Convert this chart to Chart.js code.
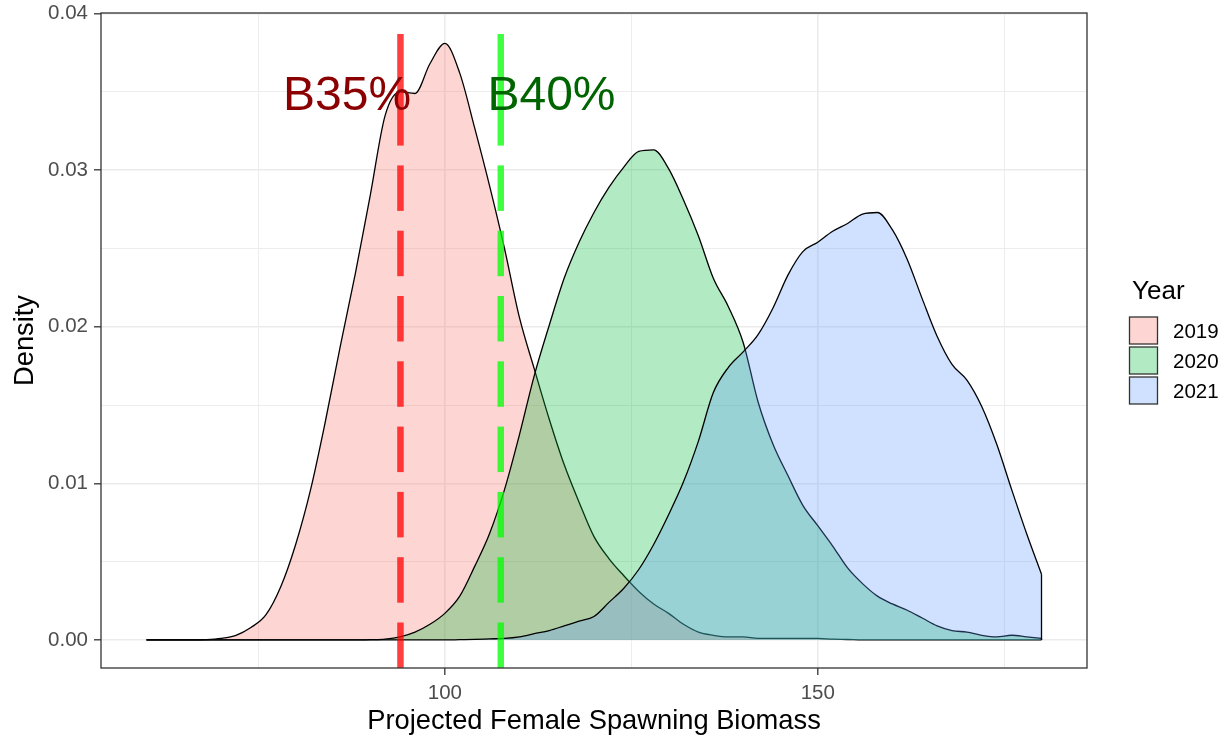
<!DOCTYPE html>
<html>
<head>
<meta charset="utf-8">
<title>Projected Female Spawning Biomass</title>
<script src="https://cdn.jsdelivr.net/npm/chart.js@4.4.1/dist/chart.umd.min.js"></script>
<style>
  html, body { margin: 0; padding: 0; background: #ffffff; }
  canvas { display: block; }
</style>
</head>
<body>
<canvas id="densityChart" width="1232" height="742"></canvas>
<script>
// density curves on a grid of biomass values
const years = ['2019', '2020', '2021'];
const biomass = [60, 62, 64, 66, 68, 70, 72, 74, 76, 78, 80, 82, 84, 86, 88, 90, 92, 94, 96, 98,
    100, 102, 104, 106, 108, 110, 112, 114, 116, 118, 120, 122, 124, 126, 128, 130, 132, 134, 136, 138,
    140, 142, 144, 146, 148, 150, 152, 154, 156, 158, 160, 162, 164, 166, 168, 170, 172, 174, 176, 178, 180];
const density2019 = [0, 0, 0, 0, 0.00002, 0.0001, 0.0003, 0.0008, 0.0016, 0.0034,
    0.0061, 0.0096, 0.0140, 0.0188, 0.0234, 0.0284, 0.0335, 0.0350, 0.0349, 0.0368,
    0.0381, 0.0362, 0.0327, 0.0290, 0.0250, 0.0206, 0.0173, 0.0141, 0.0112, 0.0088,
    0.0066, 0.0052, 0.0041, 0.0031, 0.0023, 0.0017, 0.0010, 0.0005, 0.0003, 0.0002,
    0.0002, 0.0001, 0.0001, 0.0001, 0.0001, 0.0001, 0.00005, 0.00003, 0, 0,
    0, 0, 0, 0, 0, 0, 0, 0, 0, 0, 0];
const density2020 = [0, 0, 0, 0, 0, 0, 0, 0, 0, 0,
    0, 0, 0, 0, 0, 0.00002, 0.00006, 0.0002, 0.0005, 0.0010,
    0.0017, 0.0028, 0.0047, 0.0068, 0.0096, 0.0131, 0.0169, 0.0201, 0.0231, 0.0254,
    0.0273, 0.0289, 0.0302, 0.0312, 0.0313, 0.0301, 0.0281, 0.0258, 0.0231, 0.0213,
    0.0190, 0.0152, 0.0125, 0.0105, 0.0086, 0.0073, 0.0060, 0.0046, 0.0036, 0.0028,
    0.0023, 0.0019, 0.0014, 0.0009, 0.0006, 0.0005, 0.0003, 0.0002, 0.0003, 0.0002, 0.0001];
const density2021 = [0, 0, 0, 0, 0, 0, 0, 0, 0, 0,
    0, 0, 0, 0, 0, 0, 0, 0, 0, 0,
    0, 0.00002, 0.00004, 0.00007, 0.0001, 0.0002, 0.0004, 0.0006, 0.0009, 0.0012,
    0.0015, 0.0024, 0.0033, 0.0045, 0.0061, 0.0080, 0.0101, 0.0127, 0.0158, 0.0174,
    0.0184, 0.0195, 0.0212, 0.0233, 0.0248, 0.0254, 0.0261, 0.0266, 0.0272, 0.0273,
    0.0262, 0.0243, 0.0218, 0.0194, 0.0176, 0.0166, 0.0149, 0.0125, 0.0096, 0.0068, 0.0042];

// reference points B35% / B40% and where their labels sit
const refValues = [94.05, 107.5];
const refLabels = ['B35%', 'B40%'];
const refLabelX = [86.9, 114.3];
const refLabelY = 0.0347;
const refTop = 0.0387;

const xTicks = [100, 150];
const yTicks = [0, 0.01, 0.02, 0.03, 0.04];

const FONT = '"Liberation Sans", Arial, sans-serif';
const fills = ['rgba(248,118,109,0.3)', 'rgba(0,186,56,0.3)', 'rgba(97,156,255,0.3)'];
const refColors = ['rgba(255,0,0,0.75)', 'rgba(0,255,0,0.75)'];
const refTextColors = ['#8B0000', '#006400'];

const series = [density2019, density2020, density2021];

const isMajorY = v => yTicks.some(t => Math.abs(t - v) < 1e-9);

const overlay = {
    id: 'overlay',
    beforeDraw(chart) {
        const ctx = chart.ctx;
        ctx.save();
        ctx.fillStyle = '#ffffff';
        ctx.fillRect(0, 0, chart.width, chart.height);
        ctx.restore();
    },
    afterDatasetsDraw(chart) {
        const ctx = chart.ctx;
        const xs = chart.scales.x, ys = chart.scales.y;
        const base = ys.getPixelForValue(0);
        ctx.save();

        // close each density polygon at its right end
        ctx.strokeStyle = '#000';
        ctx.lineWidth = 1.3;
        chart.data.datasets.forEach((ds, i) => {
            const pts = chart.getDatasetMeta(i).data;
            const last = pts[pts.length - 1];
            ctx.beginPath();
            ctx.moveTo(last.x, last.y);
            ctx.lineTo(last.x, base);
            ctx.stroke();
        });

        // long-dashed reference lines, dashes counted from the panel bottom
        const dash = 45.5, gap = 19.8;
        const yt = ys.getPixelForValue(refTop);
        ctx.lineWidth = 6.5;
        ctx.lineCap = 'butt';
        refValues.forEach((v, i) => {
            const px = xs.getPixelForValue(v);
            ctx.strokeStyle = refColors[i];
            let y0 = chart.chartArea.bottom;
            while (y0 > yt) {
                let y1 = Math.max(y0 - dash, yt);
                if (y1 - yt < dash + gap + 2) y1 = yt;
                ctx.beginPath();
                ctx.moveTo(px, y0);
                ctx.lineTo(px, y1);
                ctx.stroke();
                y0 = y1 - gap;
            }
        });

        ctx.font = '48px ' + FONT;
        ctx.textAlign = 'center';
        ctx.textBaseline = 'middle';
        refLabels.forEach((t, i) => {
            ctx.fillStyle = refTextColors[i];
            ctx.fillText(t, xs.getPixelForValue(refLabelX[i]), ys.getPixelForValue(refLabelY));
        });
        ctx.restore();
    },
    afterDraw(chart) {
        const ctx = chart.ctx;
        const a = chart.chartArea;
        ctx.save();
        ctx.strokeStyle = '#333333';
        ctx.lineWidth = 1.3;
        ctx.strokeRect(a.left, a.top, a.right - a.left, a.bottom - a.top);

        // legend
        ctx.fillStyle = '#000';
        ctx.textAlign = 'left';
        ctx.textBaseline = 'alphabetic';
        ctx.font = '26px ' + FONT;
        ctx.fillText('Year', 1132, 299);
        ctx.font = '20.5px ' + FONT;
        ctx.textBaseline = 'middle';
        years.forEach((yr, i) => {
            const top = 317 + i * 30;
            ctx.fillStyle = fills[i];
            ctx.fillRect(1129.5, top, 28, 27);
            ctx.strokeStyle = '#333333';
            ctx.lineWidth = 1.3;
            ctx.strokeRect(1129.5, top, 28, 27);
            ctx.fillStyle = '#000';
            ctx.fillText(yr, 1173, top + 15.5);
        });
        ctx.restore();
    }
};

new Chart(document.getElementById('densityChart'), {
    type: 'line',
    data: {
        datasets: years.map((yr, i) => ({
            label: yr,
            data: biomass.map((b, j) => ({ x: b, y: series[i][j] })),
            borderColor: '#000000',
            borderWidth: 1.3,
            backgroundColor: fills[i],
            fill: 'origin',
            pointRadius: 0,
            cubicInterpolationMode: 'monotone',
            order: 3 - i
        }))
    },
    options: {
        responsive: false,
        animation: false,
        devicePixelRatio: 1,
        layout: { padding: { left: 0, right: 145, top: 13, bottom: 0 } },
        plugins: {
            legend: { display: false },
            tooltip: { enabled: false }
        },
        scales: {
            x: {
                type: 'linear',
                min: 53.9,
                max: 186.1,
                afterFit: s => { s.height = 74; },
                border: { display: false },
                grid: {
                    color: '#EBEBEB',
                    lineWidth: c => xTicks.includes(c.tick.value) ? 1.6 : 0.9,
                    tickLength: 7,
                    tickWidth: 1.3,
                    tickColor: c => xTicks.includes(c.tick.value) ? '#333333' : 'rgba(0,0,0,0)'
                },
                ticks: {
                    stepSize: 25,
                    includeBounds: false,
                    autoSkip: false,
                    maxRotation: 0,
                    padding: 6,
                    color: '#4D4D4D',
                    font: { family: FONT, size: 20.5 },
                    callback: v => xTicks.includes(v) ? String(v) : ''
                },
                title: {
                    display: true,
                    text: 'Projected Female Spawning Biomass',
                    color: '#000',
                    font: { family: FONT, size: 27.3, lineHeight: 1 },
                    padding: { top: 0, bottom: 7 }
                }
            },
            y: {
                min: -0.00179,
                max: 0.04004,
                afterFit: s => { s.width = 101; },
                border: { display: false },
                grid: {
                    color: '#EBEBEB',
                    lineWidth: c => isMajorY(c.tick.value) ? 1.6 : 0.9,
                    tickLength: 7,
                    tickWidth: 1.3,
                    tickColor: c => isMajorY(c.tick.value) ? '#333333' : 'rgba(0,0,0,0)'
                },
                ticks: {
                    stepSize: 0.005,
                    includeBounds: false,
                    autoSkip: false,
                    padding: 6,
                    color: '#4D4D4D',
                    // small line height so the top label does not push the panel down
                    font: { family: FONT, size: 20.5, lineHeight: 0.5 },
                    callback: v => isMajorY(v) ? v.toFixed(2) : ''
                },
                title: {
                    display: true,
                    text: 'Density',
                    color: '#000',
                    font: { family: FONT, size: 27.3, lineHeight: 1 },
                    padding: { top: 11.5, bottom: 0 }
                }
            }
        }
    },
    plugins: [overlay]
});
</script>
</body>
</html>
